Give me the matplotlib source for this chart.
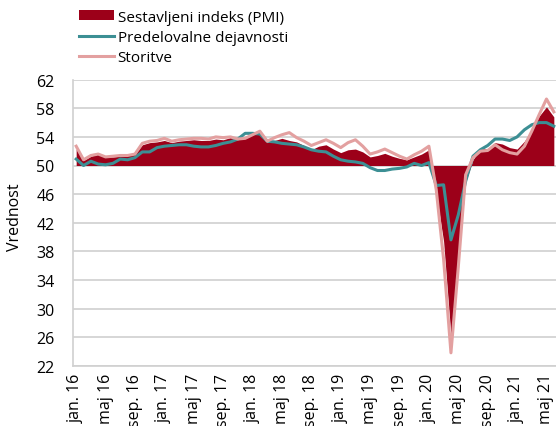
import numpy as np
import pandas as pd
import matplotlib
matplotlib.use("Agg")
import matplotlib.pyplot as plt
from matplotlib.patches import Patch
from matplotlib.lines import Line2D

plt.rcParams['font.family'] = ['Open Sans', 'DejaVu Sans']

# monthly values, jan. 2016 - jun. 2021
months = pd.date_range("2016-01-01", "2021-06-01", freq="MS")

composite = [52.3, 50.7, 51.3, 51.6, 51.2, 51.2, 51.3, 51.4, 51.6, 52.9, 53.2, 53.3,
             53.5, 53.2, 53.4, 53.5, 53.6, 53.5, 53.5, 53.7, 53.6, 53.9, 53.7, 54.0,
             54.4, 54.6, 53.2, 53.5, 53.8, 53.5, 53.3, 52.8, 52.2, 52.7, 52.9, 52.3,
             51.8, 52.2, 52.3, 51.9, 51.2, 51.4, 51.7, 51.3, 51.0, 50.8, 51.2, 51.6,
             52.2, 46.1, 39.4, 26.2, 36.5, 47.7, 50.8, 52.4, 52.3, 53.2, 53.0, 52.5,
             52.3, 53.4, 55.0, 56.9, 58.2, 56.8]

manufacturing = [50.9, 50.0, 50.6, 50.2, 50.1, 50.3, 50.9, 50.8, 51.1, 51.9, 51.9, 52.5,
                 52.7, 52.8, 52.9, 52.9, 52.7, 52.6, 52.6, 52.8, 53.1, 53.3, 53.7, 54.5,
                 54.5, 54.4, 53.4, 53.3, 53.1, 53.0, 52.9, 52.6, 52.2, 52.0, 51.9, 51.3,
                 50.8, 50.6, 50.5, 50.3, 49.7, 49.3, 49.3, 49.5, 49.6, 49.8, 50.3, 50.0,
                 50.4, 47.2, 47.3, 39.6, 43.1, 47.8, 51.3, 52.2, 52.8, 53.7, 53.7, 53.5,
                 54.0, 55.0, 55.7, 56.0, 56.0, 55.5]

services = [52.7, 50.8, 51.4, 51.6, 51.2, 51.3, 51.4, 51.4, 51.6, 53.1, 53.4, 53.5,
            53.8, 53.4, 53.6, 53.7, 53.8, 53.8, 53.7, 54.0, 53.9, 54.0, 53.7, 53.8,
            54.3, 54.8, 53.4, 53.9, 54.3, 54.6, 53.9, 53.4, 52.8, 53.2, 53.6, 53.1,
            52.5, 53.2, 53.6, 52.7, 51.6, 51.9, 52.3, 51.8, 51.3, 50.9, 51.5, 52.0,
            52.7, 46.6, 36.9, 23.8, 35.8, 48.7, 51.1, 52.0, 52.1, 52.9, 52.2, 51.8,
            51.6, 52.7, 54.8, 57.1, 59.3, 57.5]

names = ["Sestavljeni indeks (PMI)", "Predelovalne dejavnosti", "Storitve"]
colors = ["#9c0019", "#3c8f94", "#e3a0a0"]

mnames = {1: "jan.", 5: "maj", 9: "sep."}
x = np.arange(len(months))
tick_pos = x[::4]
tick_labels = [f"{mnames[d.month]} {d.year % 100}" for d in months[::4]]

fig = plt.figure(figsize=(5.56, 4.27), dpi=100)
ax = fig.add_axes([72.5 / 556, (427 - 366.7) / 427, 485 / 556, 286 / 427])

ax.fill_between(x, 50, composite, color=colors[0], linewidth=0, zorder=2)
ax.plot(x, manufacturing, color=colors[1], lw=2.2, zorder=3)
ax.plot(x, services, color=colors[2], lw=2.2, zorder=4)

ax.set_xlim(-0.5, len(x) - 0.5)
ax.set_ylim(22, 62)
ax.set_yticks(np.arange(22, 63, 4))
ax.yaxis.grid(True, color="#d0d0d0", lw=1.2, zorder=0)
ax.set_axisbelow(True)
ax.set_xticks(tick_pos)
ax.set_xticklabels(tick_labels, rotation=90, fontsize=11.5)
ax.tick_params(axis="x", length=0, pad=5)
ax.tick_params(axis="y", length=0, pad=13, labelsize=11.5)
for s in ["top", "right"]:
    ax.spines[s].set_visible(False)
for s in ["left", "bottom"]:
    ax.spines[s].set_color("#d0d0d0")
    ax.spines[s].set_linewidth(1.2)

ax.set_ylabel("Vrednost", fontsize=11.5)
ax.yaxis.set_label_coords(-0.102, 0.523)

handles = [Patch(facecolor=colors[0], edgecolor="none"),
           Line2D([], [], color=colors[1], lw=2.2),
           Line2D([], [], color=colors[2], lw=2.2)]
fig.legend(handles, names, loc="upper left", bbox_to_anchor=(68 / 556, 1.0),
           frameon=False, fontsize=11, handlelength=2.3, handleheight=0.65,
           handletextpad=0.25, labelspacing=0.33, borderaxespad=0.3)

fig.savefig("out.png", dpi=100)
